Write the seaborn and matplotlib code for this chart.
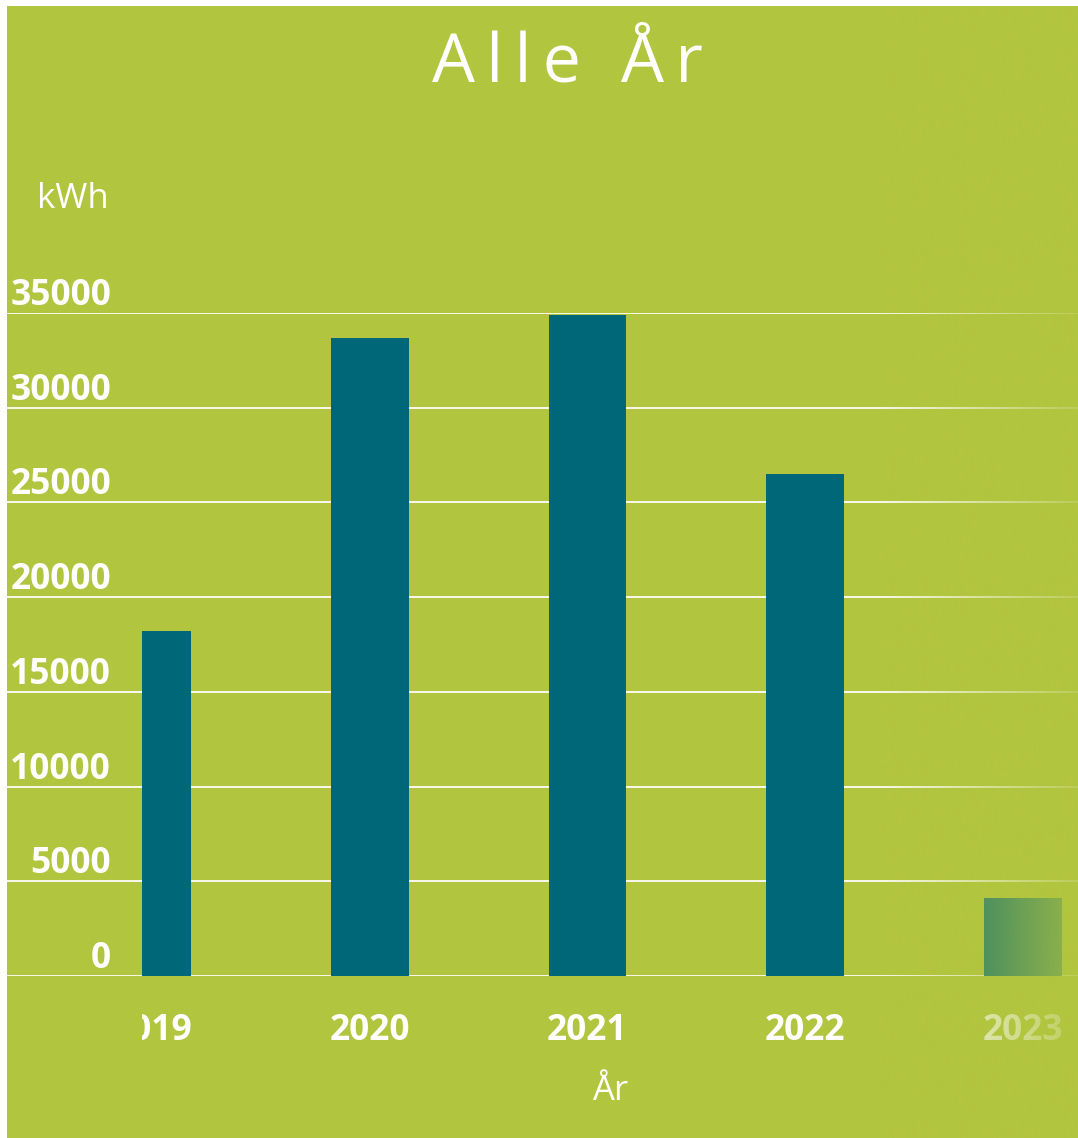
import numpy as np
import pandas as pd
import matplotlib
matplotlib.use("Agg")
import matplotlib.pyplot as plt
import seaborn as sns
from matplotlib.transforms import Bbox, TransformedBbox, blended_transform_factory, offset_copy
from matplotlib.patches import Rectangle

# ---- data ----
years = ["2019", "2020", "2021", "2022", "2023"]
kwh = [18200, 33700, 34900, 26500, 4100]
yticks = [0, 5000, 10000, 15000, 20000, 25000, 30000, 35000]
title = "Alle År"
ylabel = "kWh"
xlabel = "År"

GREEN = "#b2c53f"
TEAL = "#006778"

W, H, DPI = 1078, 1138, 100
sns.set_theme(style="white")
plt.rcParams['font.family'] = ['Open Sans', 'DejaVu Sans']

fig = plt.figure(figsize=(W / DPI, H / DPI), dpi=DPI, facecolor="white")


def fx(px):
    return px / W


def fy(py):
    return 1 - py / H


# green panel (white margin on left and top)
fig.add_artist(Rectangle((fx(7), 0), 1 - fx(7), fy(6), transform=fig.transFigure,
                         facecolor=GREEN, edgecolor="none", zorder=0))

y0, y1 = 976, 313  # pixel rows of 0 and 35000

# background axes: grid lines + y labels
bg = fig.add_axes([fx(7), fy(y0), 1 - fx(7), fy(y1) - fy(y0)])
bg.set_facecolor("none")
bg.set_ylim(0, 35000)
bg.set_xlim(0, 1)
bg.axis("off")
for t in yticks:
    bg.axhline(t, color="white", lw=1.4, alpha=0.9, zorder=1)
trans = blended_transform_factory(fig.transFigure, bg.transData)
trans = offset_copy(trans, fig=fig, x=0, y=8, units="dots")
for t in yticks:
    bg.text(fx(111), t, f"{t}", transform=trans, ha="right", va="baseline",
            fontsize=25.5, fontweight="bold", color="white", clip_on=False)

# bar axes (scrolled view, clipped at left)
ax = fig.add_axes([fx(142), fy(y0), 1 - fx(142), fy(y1) - fy(y0)])
ax.set_facecolor("none")
df = pd.DataFrame({"year": years, "kwh": kwh})
sns.barplot(data=df, x="year", y="kwh", order=years, color=TEAL, saturation=1,
            width=0.358, linewidth=0, edgecolor="none", ax=ax)
ax.set_xlim(-0.0459, 4.2526)
ax.set_ylim(0, 35000)
for s in ax.spines.values():
    s.set_visible(False)
ax.set_yticks([])
ax.set_ylabel("")
ax.tick_params(axis="x", length=0, pad=27, labelsize=25.5, labelcolor="white")
clipbox = TransformedBbox(Bbox([[fx(142), 0], [1, 1]]), fig.transFigure)
for lbl in ax.get_xticklabels():
    lbl.set_fontweight("bold")
    lbl.set_clip_on(True)
    lbl.set_clip_box(clipbox)
ax.set_xlabel(xlabel, fontsize=25, color="white", labelpad=18)

# texts
fig.text(fx(567), fy(64), "\u2009".join(list(title)), ha="center", va="center",
         fontsize=49, color="white")
fig.text(fx(73), fy(199), ylabel, ha="center", va="center", fontsize=25, color="white")

# right-side fade (scroll edge)
fade = fig.add_axes([fx(880), 0, 1 - fx(880), fy(6)])
fade.set_zorder(20)
fade.axis("off")
N = 256
grad = np.zeros((1, N, 4))
rgb = matplotlib.colors.to_rgb(GREEN)
grad[..., 0], grad[..., 1], grad[..., 2] = rgb
grad[..., 3] = np.linspace(0, 0.85, N)
fade.imshow(grad, aspect="auto", extent=[0, 1, 0, 1], interpolation="bilinear")
fade.set_xlim(0, 1)
fade.set_ylim(0, 1)

fig.savefig("out.png", dpi=DPI, facecolor=fig.get_facecolor())
